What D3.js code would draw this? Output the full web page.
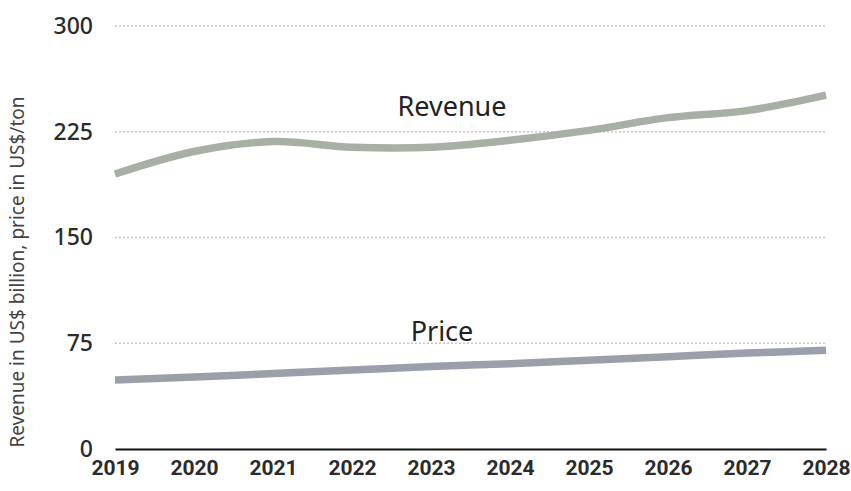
<!DOCTYPE html>
<html><head><meta charset="utf-8">
<script src="https://cdn.jsdelivr.net/npm/d3@7"></script>
<style>body{margin:0;background:#fff}</style>
</head><body>
<svg id="c" width="851" height="491"></svg>
<script>
const years = [2019,2020,2021,2022,2023,2024,2025,2026,2027,2028];
const revenue = [195,211,218,214,214,219,226,235,240,251];
const price = [49,51,53.5,56,58.5,60.5,63,65.5,68,70];
const yTicks = [0,75,150,225,300];
const yTitle = "Revenue in US$ billion, price in US$/ton";

const svg = d3.select("#c");
const x = d3.scaleLinear().domain([2019,2028]).range([115,826]);
const y = d3.scaleLinear().domain([0,300]).range([449,26]);

// gridlines
svg.append("g").selectAll("line").data(yTicks.filter(d=>d>0)).join("line")
  .attr("x1",115).attr("x2",826).attr("y1",d=>y(d)).attr("y2",d=>y(d))
  .attr("stroke","#c4c4c4").attr("stroke-width",1.5).attr("stroke-dasharray","2,2");

// y axis labels
const ya = svg.append("g").attr("transform","translate(93,0)")
  .call(d3.axisLeft(y).tickValues(yTicks).tickSize(0).tickPadding(0));
ya.select(".domain").remove();
ya.selectAll("text").attr("font-family","'Noto Sans', 'DejaVu Sans', sans-serif")
  .attr("font-size",23).attr("font-weight",500).attr("fill","#2b2b2b");

// x axis
const xa = svg.append("g").attr("transform","translate(0,449)")
  .call(d3.axisBottom(x).tickValues(years).tickFormat(d3.format("d")).tickSize(0).tickPadding(11));
xa.select(".domain").attr("stroke","#111").attr("stroke-width",2);
xa.selectAll("text").attr("font-family","'Liberation Sans Narrow', 'Roboto', sans-serif")
  .attr("font-size",21).attr("font-weight","bold").attr("fill","#2b2b2b");

// y title
svg.append("text").attr("transform","translate(24,272) rotate(-90)")
  .attr("text-anchor","middle").attr("font-family","'Noto Sans', 'DejaVu Sans', sans-serif")
  .attr("font-size",19).attr("fill","#444").text(yTitle);

const line = d3.line().x((d,i)=>x(years[i])).y(d=>y(d)).curve(d3.curveCatmullRom.alpha(0.5));
svg.append("path").datum(revenue).attr("d",line).attr("fill","none")
  .attr("stroke","#a8afa5").attr("stroke-width",7.5);
svg.append("path").datum(price).attr("d",line).attr("fill","none")
  .attr("stroke","#9a9fa9").attr("stroke-width",7.5);

svg.append("text").attr("x",452).attr("y",116).attr("text-anchor","middle")
  .attr("font-family","'Noto Sans', 'DejaVu Sans', sans-serif").attr("font-size",27)
  .attr("fill","#222").text("Revenue");
svg.append("text").attr("x",442).attr("y",341).attr("text-anchor","middle")
  .attr("font-family","'Noto Sans', 'DejaVu Sans', sans-serif").attr("font-size",27)
  .attr("fill","#222").text("Price");
</script>
</body></html>
